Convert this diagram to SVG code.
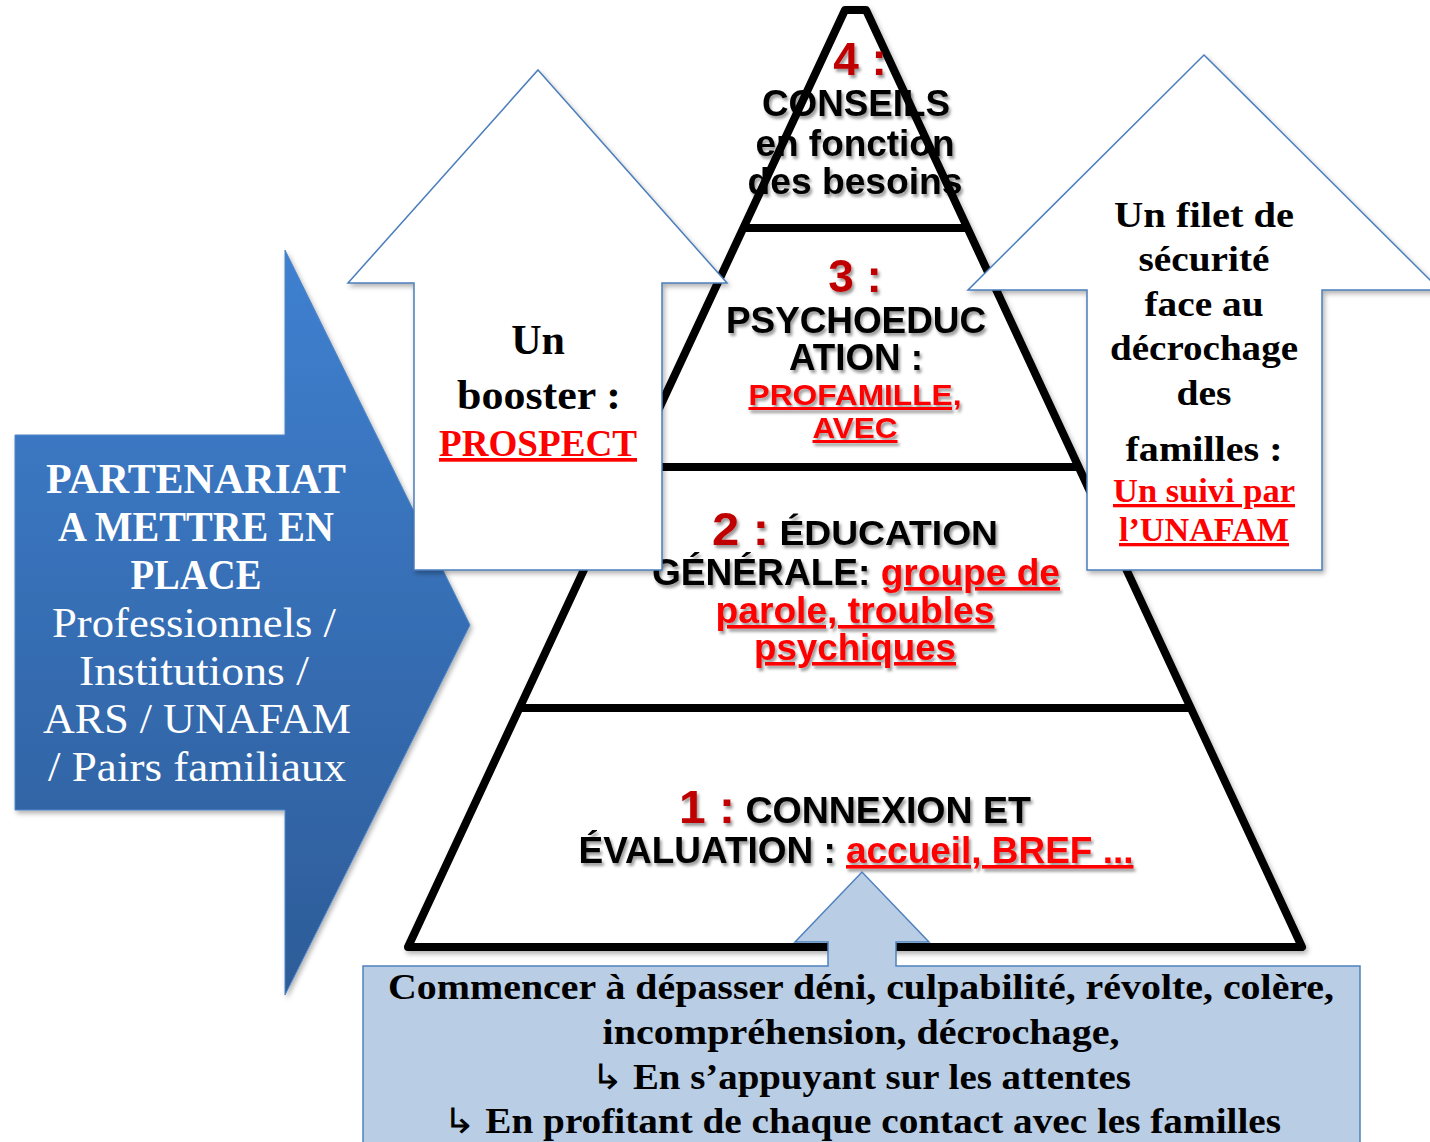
<svg xmlns="http://www.w3.org/2000/svg" width="1430" height="1142" viewBox="0 0 1430 1142">
  <defs>
    <linearGradient id="blueGrad" x1="0" y1="0" x2="0" y2="1">
      <stop offset="0" stop-color="#3f80d0"/>
      <stop offset="1" stop-color="#2d5c98"/>
    </linearGradient>
    <filter id="shadow" x="-10%" y="-10%" width="130%" height="130%">
      <feDropShadow dx="2" dy="3" stdDeviation="2.5" flood-color="#000" flood-opacity="0.3"/>
    </filter>
    <filter id="txtShadow" x="-5%" y="-20%" width="115%" height="150%">
      <feDropShadow dx="2" dy="3" stdDeviation="1.5" flood-color="#000" flood-opacity="0.4"/>
    </filter>
  </defs>
  <style>
    .serif { font-family: "Liberation Serif", "Times New Roman", serif; }
    .sans { font-family: "Liberation Sans", Arial, sans-serif; font-weight: bold; }
    .wArrow { fill: #ffffff; stroke: #4a7ebb; stroke-width: 1.5; }
    .pyr { fill: #ffffff; stroke: #000000; stroke-width: 8; stroke-linejoin: round; stroke-linecap: round; }
    .num { fill: #c00000; }
    .blk { fill: #000000; }
    .link { fill: #ff0000; text-decoration: underline; }
    .wt { fill: #ffffff; }
    .hook { font-weight: normal; }
  </style>

  <!-- Left blue arrow -->
  <g id="partenariat">
    <path d="M15,435 H285 V250 L470,625 L285,995 V810 H15 Z" fill="url(#blueGrad)" stroke="#4f86c6" stroke-width="1" filter="url(#shadow)"/>
    <g class="serif wt" text-anchor="middle" font-size="42">
      <text x="196" y="493" font-weight="bold" textLength="300" lengthAdjust="spacingAndGlyphs">PARTENARIAT</text>
      <text x="196" y="541" font-weight="bold" textLength="276" lengthAdjust="spacingAndGlyphs">A METTRE EN</text>
      <text x="196" y="589" font-weight="bold" textLength="131" lengthAdjust="spacingAndGlyphs">PLACE</text>
      <text x="194" y="637" textLength="284" lengthAdjust="spacingAndGlyphs">Professionnels /</text>
      <text x="194" y="685" textLength="230" lengthAdjust="spacingAndGlyphs">Institutions /</text>
      <text x="197" y="733" textLength="308" lengthAdjust="spacingAndGlyphs">ARS / UNAFAM</text>
      <text x="197" y="781" textLength="298" lengthAdjust="spacingAndGlyphs">/ Pairs familiaux</text>
    </g>
  </g>

  <!-- Pyramid -->
  <g id="pyramid" filter="url(#shadow)">
    <polygon class="pyr" points="845,10 866,10 1302,947 408,947"/>
    <line class="pyr" x1="744" y1="228" x2="966" y2="228"/>
    <line class="pyr" x1="634" y1="467" x2="1076" y2="467"/>
    <line class="pyr" x1="521" y1="708" x2="1189" y2="708"/>
  </g>

  <g id="level4" class="sans" text-anchor="middle" filter="url(#txtShadow)">
    <text x="860" y="75" class="num" font-size="46">4 :</text>
    <text x="856" y="116" class="blk" font-size="36" textLength="188" lengthAdjust="spacingAndGlyphs">CONSEILS</text>
    <text x="855" y="156" class="blk" font-size="36" textLength="199" lengthAdjust="spacingAndGlyphs">en fonction</text>
    <text x="855" y="194" class="blk" font-size="36" textLength="215" lengthAdjust="spacingAndGlyphs">des besoins</text>
  </g>

  <g id="level3" class="sans" text-anchor="middle" filter="url(#txtShadow)">
    <text x="855" y="292" class="num" font-size="46">3 :</text>
    <text x="856" y="333" class="blk" font-size="36" textLength="260" lengthAdjust="spacingAndGlyphs">PSYCHOEDUC</text>
    <text x="856" y="370" class="blk" font-size="36" textLength="134" lengthAdjust="spacingAndGlyphs">ATION :</text>
    <text x="855" y="405" class="link" font-size="30" textLength="213" lengthAdjust="spacingAndGlyphs">PROFAMILLE,</text>
    <text x="855" y="438" class="link" font-size="30" textLength="85" lengthAdjust="spacingAndGlyphs">AVEC</text>
  </g>

  <g id="level2" class="sans" text-anchor="middle" filter="url(#txtShadow)">
    <text x="855" y="545" font-size="35" textLength="286" lengthAdjust="spacingAndGlyphs"><tspan class="num" font-size="46">2 :</tspan><tspan class="blk"> ÉDUCATION</tspan></text>
    <text x="856" y="585" font-size="36" textLength="408" lengthAdjust="spacingAndGlyphs"><tspan class="blk">GÉNÉRALE: </tspan><tspan class="link">groupe de</tspan></text>
    <text x="855" y="623" class="link" font-size="36" textLength="279" lengthAdjust="spacingAndGlyphs">parole, troubles</text>
    <text x="855" y="660" class="link" font-size="36" textLength="202" lengthAdjust="spacingAndGlyphs">psychiques</text>
  </g>

  <g id="level1" class="sans" text-anchor="middle" filter="url(#txtShadow)">
    <text x="855" y="823" font-size="36" textLength="352" lengthAdjust="spacingAndGlyphs"><tspan class="num" font-size="46">1 :</tspan><tspan class="blk"> CONNEXION ET</tspan></text>
    <text x="856" y="863" font-size="36" textLength="555" lengthAdjust="spacingAndGlyphs"><tspan class="blk">ÉVALUATION : </tspan><tspan class="link">accueil, BREF ...</tspan></text>
  </g>

  <!-- Left white arrow -->
  <g id="booster">
    <path class="wArrow" d="M538,70 L727,283 H662 V570 H414 V283 H348 Z" filter="url(#shadow)"/>
    <g class="serif" text-anchor="middle" font-weight="bold">
      <text x="538" y="354" font-size="42" fill="#000">Un</text>
      <text x="539" y="409" font-size="42" fill="#000" textLength="164" lengthAdjust="spacingAndGlyphs">booster :</text>
      <text x="538" y="456" font-size="37" class="link" textLength="198" lengthAdjust="spacingAndGlyphs">PROSPECT</text>
    </g>
  </g>

  <!-- Right white arrow -->
  <g id="filet">
    <path class="wArrow" d="M1204,55 L1440,290 H1322 V570 H1087 V290 H968 Z" filter="url(#shadow)"/>
    <g class="serif" text-anchor="middle" font-weight="bold" font-size="36" fill="#000">
      <text x="1204" y="227" textLength="180" lengthAdjust="spacingAndGlyphs">Un filet de</text>
      <text x="1204" y="271" textLength="131" lengthAdjust="spacingAndGlyphs">sécurité</text>
      <text x="1204" y="316" textLength="119" lengthAdjust="spacingAndGlyphs">face au</text>
      <text x="1204" y="360" textLength="188" lengthAdjust="spacingAndGlyphs">décrochage</text>
      <text x="1204" y="405" textLength="55" lengthAdjust="spacingAndGlyphs">des</text>
      <text x="1204" y="461" textLength="157" lengthAdjust="spacingAndGlyphs">familles :</text>
      <text x="1204" y="502" font-size="33" class="link" textLength="182" lengthAdjust="spacingAndGlyphs">Un suivi par</text>
      <text x="1204" y="541" font-size="33" class="link" textLength="170" lengthAdjust="spacingAndGlyphs">l’UNAFAM</text>
    </g>
  </g>

  <!-- Bottom box with up arrow -->
  <g id="depasser">
    <path d="M363,966 H828 V942 H795 L862,872 L929,942 H896 V966 H1360 V1150 H363 Z" fill="#b9cde5" stroke="#4f81bd" stroke-width="1.5"/>
    <g class="serif" text-anchor="middle" font-weight="bold" font-size="35" fill="#000">
      <text x="861" y="999" textLength="946" lengthAdjust="spacingAndGlyphs">Commencer à dépasser déni, culpabilité, révolte, colère,</text>
      <text x="861" y="1044" textLength="517" lengthAdjust="spacingAndGlyphs">incompréhension, décrochage,</text>
      <text x="861" y="1089" textLength="540" lengthAdjust="spacingAndGlyphs"><tspan class="hook">↳</tspan> En s’appuyant sur les attentes</text>
      <text x="862" y="1133" textLength="838" lengthAdjust="spacingAndGlyphs"><tspan class="hook">↳</tspan> En profitant de chaque contact avec les familles</text>
    </g>
  </g>
</svg>
